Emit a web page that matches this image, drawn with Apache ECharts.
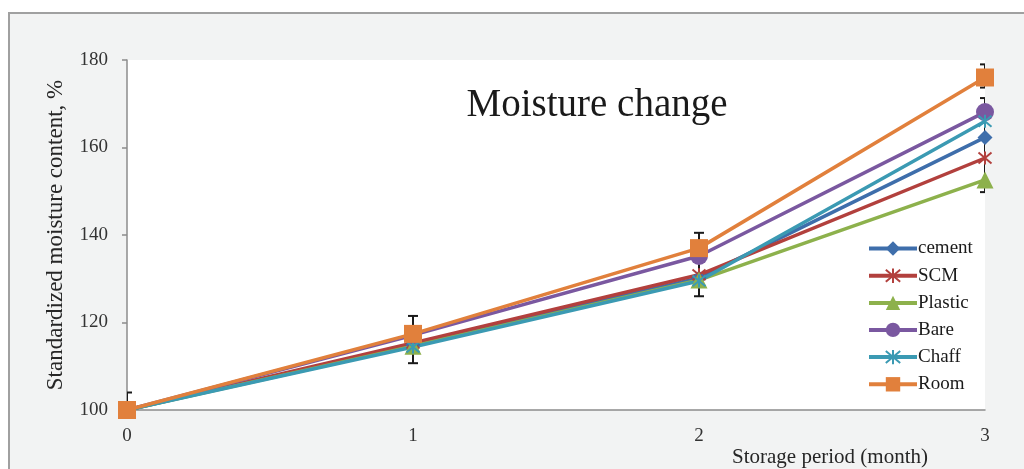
<!DOCTYPE html>
<html>
<head>
<meta charset="utf-8">
<script src="https://cdn.jsdelivr.net/npm/echarts@6/dist/echarts.min.js"></script>
<style>html,body{margin:0;padding:0;background:#fff;}#c{width:1024px;height:469px;}</style>
</head>
<body>
<div id="c"></div>
<script>
const months = [0, 1, 2, 3];
const cement  = [100, 114.9, 130.2, 162.3];
const scm     = [100, 115.3, 130.9, 157.6];
const plastic = [100, 114.6, 129.7, 152.6];
const bare    = [100, 117.1, 135.2, 168.1];
const chaff   = [100, 114.4, 129.5, 166.0];
const room    = [100, 117.4, 137.0, 176.0];
// error bars: [x, low, high]
const errX    = [0, 1, 2, 3, 3];
const errLow  = [96, 110.7, 126.0, 173.7, 149.8];
const errHigh = [104, 121.5, 140.5, 179.0, 171.3];

const serif = '"Liberation Serif","DejaVu Serif",serif';
const asterisk = 'path://M-5,-5L5,5M5,-5L-5,5M0,-6L0,6';

function mk(name, data, color, symbol, size, extra) {
  return Object.assign({
    name: name, type: 'line', data: months.map((m, i) => [m, data[i]]),
    symbol: symbol, symbolSize: size,
    lineStyle: { color: color, width: 3.5 },
    itemStyle: { color: color },
    emphasis: { disabled: true }
  }, extra || {});
}
const starStyle = c => ({ itemStyle: { color: 'none', borderColor: c, borderWidth: 2 } });

const chart = echarts.init(document.getElementById('c'), null, { renderer: 'canvas' });
chart.setOption({
  backgroundColor: '#ffffff',
  animation: false,
  graphic: [
    { type: 'rect', z: -100, shape: { x: 9, y: 13, width: 1100, height: 600 },
      style: { fill: '#f2f3f3', stroke: '#a0a0a0', lineWidth: 2 } },
    { type: 'text', z: 100, x: 597, y: 106,
      style: { text: 'Moisture change', font: '39px ' + serif, fill: '#1a1a1a', textAlign: 'center', textVerticalAlign: 'middle' } },
    { type: 'text', z: 100, x: 830, y: 457,
      style: { text: 'Storage period (month)', font: '21px ' + serif, fill: '#262626', textAlign: 'center', textVerticalAlign: 'middle' } }
  ],
  grid: { left: 127, right: 39, top: 60, bottom: 59, show: true, backgroundColor: '#ffffff', borderWidth: 0 },
  xAxis: {
    type: 'value', min: 0, max: 3, interval: 1,
    axisLine: { show: true, lineStyle: { color: '#8c8c8c', width: 1.5 } },
    axisTick: { show: false },
    splitLine: { show: false },
    axisLabel: { fontFamily: serif, fontSize: 19, color: '#333', margin: 17 }
  },
  yAxis: {
    type: 'value', min: 100, max: 180, interval: 20,
    name: 'Standardized moisture content, %', nameLocation: 'middle', nameGap: 60,
    nameTextStyle: { fontFamily: serif, fontSize: 23, color: '#262626' },
    axisLine: { show: true, lineStyle: { color: '#8c8c8c', width: 1.5 } },
    axisTick: { show: true, inside: false, length: 5, lineStyle: { color: '#8c8c8c', width: 1.5 } },
    splitLine: { show: false },
    axisLabel: { fontFamily: serif, fontSize: 19, color: '#333', margin: 19 }
  },
  legend: {
    orient: 'vertical', left: 862, top: 234, itemWidth: 48, itemHeight: 18, itemGap: 8,
    lineStyle: { width: 4 },
    textStyle: { fontFamily: serif, fontSize: 19, color: '#1a1a1a', padding: [0, 0, 0, -4] },
    data: ['cement', 'SCM', 'Plastic', 'Bare', 'Chaff', 'Room']
  },
  series: [
    mk('cement', cement, '#3e6eab', 'diamond', 15),
    mk('SCM', scm, '#b2403d', asterisk, 13, starStyle('#b2403d')),
    mk('Plastic', plastic, '#8db14c', 'triangle', 17),
    mk('Bare', bare, '#7a58a0', 'circle', 18),
    mk('Chaff', chaff, '#3b9ab3', asterisk, 13, starStyle('#3b9ab3')),
    mk('Room', room, '#e1803c', 'rect', 18),
    {
      type: 'custom', name: 'err', clip: true, z: 1,
      data: errX.map((x, i) => [x, errLow[i], errHigh[i]]),
      renderItem: function (params, api) {
        const lo = api.coord([api.value(0), api.value(1)]);
        const hi = api.coord([api.value(0), api.value(2)]);
        const w = 5;
        return {
          type: 'group', children: [
            { type: 'line', shape: { x1: lo[0], y1: lo[1], x2: hi[0], y2: hi[1] }, style: { stroke: '#1a1a1a', lineWidth: 2 } },
            { type: 'line', shape: { x1: hi[0] - w, y1: hi[1], x2: hi[0] + w, y2: hi[1] }, style: { stroke: '#1a1a1a', lineWidth: 2 } },
            { type: 'line', shape: { x1: lo[0] - w, y1: lo[1], x2: lo[0] + w, y2: lo[1] }, style: { stroke: '#1a1a1a', lineWidth: 2 } }
          ]
        };
      }
    }
  ]
});
</script>
</body>
</html>
